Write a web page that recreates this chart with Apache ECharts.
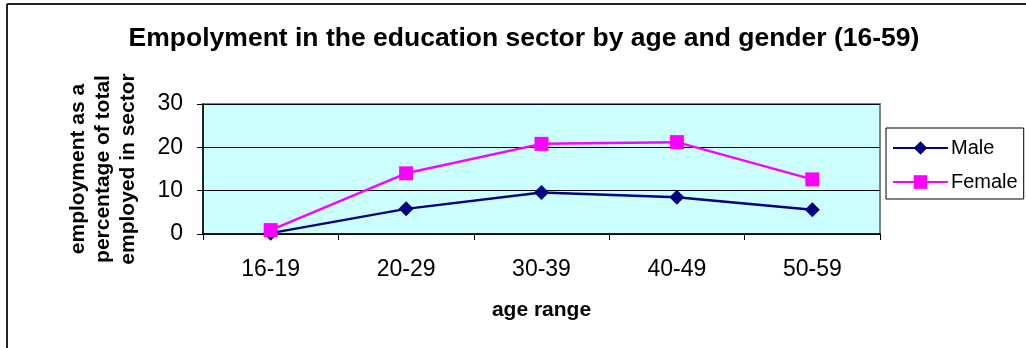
<!DOCTYPE html>
<html>
<head>
<meta charset="utf-8">
<script src="https://cdn.jsdelivr.net/npm/echarts@6/dist/echarts.min.js"></script>
<style>
  html, body { margin: 0; padding: 0; background: #fff; }
  #chart { width: 1026px; height: 348px; }
</style>
</head>
<body>
<div id="chart"></div>
<script>
// Age bands and the share of sector employment (%) for each gender
const ageRanges = ['16-19', '20-29', '30-39', '40-49', '50-59'];
const maleShare = [0.2, 5.8, 9.6, 8.5, 5.6];
const femaleShare = [0.9, 14.0, 20.8, 21.2, 12.6];
const yTicks = { min: 0, max: 30, interval: 10 };

const FONT = '"Liberation Sans", Arial, sans-serif';

const chart = echarts.init(document.getElementById('chart'), null, { renderer: 'canvas' });

chart.setOption({
  animation: false,
  backgroundColor: '#ffffff',
  title: {
    text: 'Empolyment in the education sector by age and gender (16-59)',
    left: 519,
    top: 20,
    textAlign: 'center',
    textStyle: { fontFamily: FONT, fontSize: 26.5, fontWeight: 'bold', color: '#000' }
  },
  graphic: [
    // frame lines along the top and left edges
    { type: 'line', shape: { x1: 7, y1: 4, x2: 1026, y2: 4 }, style: { stroke: '#222', lineWidth: 2 } },
    { type: 'line', shape: { x1: 7, y1: 4, x2: 7, y2: 348 }, style: { stroke: '#222', lineWidth: 2 } }
  ],
  legend: {
    orient: 'vertical',
    left: 886,
    top: 128,
    padding: [10, 6, 7, 6],
    itemGap: 14,
    itemWidth: 55,
    itemHeight: 17,
    borderColor: '#000',
    borderWidth: 1,
    backgroundColor: '#fff',
    textStyle: { fontFamily: FONT, fontSize: 20, color: '#000', padding: [0, 0, 0, -2] },
    data: ['Male', 'Female']
  },
  grid: {
    left: 203,
    right: 146,
    top: 104,
    bottom: 114,
    show: true,
    backgroundColor: '#CCFFFF',
    borderColor: '#808080',
    borderWidth: 2
  },
  xAxis: {
    type: 'category',
    data: ageRanges,
    boundaryGap: true,
    name: 'age range',
    nameLocation: 'middle',
    nameGap: 66,
    nameTextStyle: { fontFamily: FONT, fontSize: 21, fontWeight: 'bold', color: '#000' },
    axisLine: { lineStyle: { color: '#000', width: 1.5 } },
    axisTick: { show: true, alignWithLabel: false, length: 6, lineStyle: { color: '#000' } },
    axisLabel: { fontFamily: FONT, fontSize: 23, color: '#000', margin: 24 },
    splitLine: { show: false }
  },
  yAxis: {
    type: 'value',
    min: yTicks.min,
    max: yTicks.max,
    interval: yTicks.interval,
    name: 'employment as a\npercentage of total\nemployed in sector',
    nameLocation: 'middle',
    nameRotate: 90,
    nameGap: 62,
    nameTextStyle: { fontFamily: FONT, fontSize: 21, fontWeight: 'bold', color: '#000', lineHeight: 25, align: 'center' },
    axisLine: { show: true, lineStyle: { color: '#000', width: 1.5 } },
    axisTick: { show: true, length: 6, lineStyle: { color: '#000' } },
    axisLabel: { fontFamily: FONT, fontSize: 23, color: '#000', margin: 20 },
    splitLine: { show: true, lineStyle: { color: '#000', width: 1 } }
  },
  series: [
    {
      name: 'Male',
      type: 'line',
      data: maleShare,
      symbol: 'diamond',
      symbolSize: 15,
      itemStyle: { color: '#000080' },
      lineStyle: { color: '#000080', width: 2.5 }
    },
    {
      name: 'Female',
      type: 'line',
      data: femaleShare,
      symbol: 'rect',
      symbolSize: 14,
      itemStyle: { color: '#FF00FF' },
      lineStyle: { color: '#FF00FF', width: 2.5 }
    }
  ]
});
</script>
</body>
</html>
